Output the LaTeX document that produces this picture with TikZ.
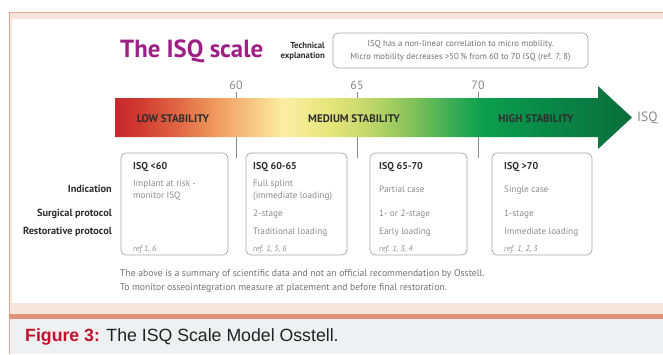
\documentclass[tikz,border=0pt]{standalone}
\usepackage{fontspec}
\setmainfont{PT Sans}
\newfontfamily\capfont{Liberation Sans}

\definecolor{isqpurple}{HTML}{9E1F85}
\definecolor{framepeach}{HTML}{F7E4DA}
\definecolor{frameline}{HTML}{E9A895}
\definecolor{captionbar}{HTML}{E08F78}
\definecolor{captionbg}{HTML}{EFF0F2}
\definecolor{figred}{HTML}{C4122C}
\definecolor{captext}{HTML}{222222}
\definecolor{boxline}{HTML}{A8A8A8}
\definecolor{headdark}{HTML}{2E2E2E}
\definecolor{bodygray}{HTML}{8C8C8C}
\definecolor{tickgray}{HTML}{8A8A8A}
\definecolor{notegray}{HTML}{727272}

\definecolor{scaleA}{HTML}{C8282E}
\definecolor{scaleB}{HTML}{D03A30}
\definecolor{scaleC}{HTML}{E26A45}
\definecolor{scaleD}{HTML}{EF9A5E}
\definecolor{scaleE}{HTML}{F6BE7E}
\definecolor{scaleF}{HTML}{FAEFA2}
\definecolor{scaleG}{HTML}{E6E57A}
\definecolor{scaleH}{HTML}{C0D76A}
\definecolor{scaleI}{HTML}{86C35A}
\definecolor{scaleJ}{HTML}{3DAE55}
\definecolor{scaleK}{HTML}{0EA04E}
\definecolor{scaleL}{HTML}{088A48}
\definecolor{scaleM}{HTML}{0B6E3C}

\pgfdeclarehorizontalshading{isqscale}{100bp}{color(0bp)=(scaleA); color(25bp)=(scaleA);
  color(27.4bp)=(scaleB); color(31.3bp)=(scaleC); color(34.7bp)=(scaleD);
  color(37.6bp)=(scaleE); color(41.4bp)=(scaleF); color(45.8bp)=(scaleG);
  color(49.7bp)=(scaleH); color(53.5bp)=(scaleI); color(57.4bp)=(scaleJ);
  color(60.3bp)=(scaleK); color(66.1bp)=(scaleL); color(75bp)=(scaleM);
  color(100bp)=(scaleM)}

\begin{document}
\begin{tikzpicture}[x=1pt,y=-1pt,
  every node/.style={inner sep=0pt},
  rangebox/.style={draw=boxline, line width=0.7pt, rounded corners=5pt, minimum height=102},
  boxhead/.style={anchor=base west, font=\bfseries\fontsize{10}{12}\selectfont, text=headdark},
  boxtext/.style={anchor=base west, font=\fontsize{9.2}{12}\selectfont, text=bodygray},
  boxref/.style={anchor=base west, font=\itshape\fontsize{8.2}{10}\selectfont, text=bodygray},
  rowlabel/.style={anchor=base east, font=\bfseries\fontsize{10.3}{12}\selectfont, text=headdark},
  stablabel/.style={anchor=base, font=\bfseries\fontsize{11}{13}\selectfont, text=headdark},
  ticklabel/.style={anchor=base, font=\fontsize{12}{14}\selectfont, text=tickgray},
  tickline/.style={draw=tickgray, line width=1pt}]
\useasboundingbox (0,0) rectangle (663,354);
\fill[white] (0,0) rectangle (663,354);
\fill[framepeach] (9,12) rectangle (663,314);
\fill[white] (12,19) rectangle (663,303);
\draw[frameline, line width=0.8pt] (9.4,354) -- (9.4,12.4) -- (663,12.4);
\fill[captionbar] (9,314) rectangle (663,319);
\fill[captionbg] (9.8,319) rectangle (663,354);

\node[anchor=base west, font=\bfseries\fontsize{24.8}{28}\selectfont, text=isqpurple] (title) at (120,57) {The ISQ scale};
\node[anchor=east, align=right, font=\bfseries\fontsize{8.7}{9.5}\selectfont, text=headdark] (techlbl) at (325,51.5) {Technical\\explanation};
\node[draw=boxline, line width=0.7pt, rounded corners=5pt, minimum width=255, minimum height=35, align=center,
  font=\fontsize{8.7}{13}\selectfont, text=notegray] (mobbox) at (460.5,50.5)
  {ISQ has a non-linear correlation to micro mobility.\\Micro mobility decreases >50\,\% from 60 to 70 ISQ (ref. 7, 8)};

\shade[shading=isqscale] (115,98) -- (598,98) -- (598,86) -- (632,117.5) -- (598,149) -- (598,137) -- (115,137) -- cycle;
\node[stablabel] (low) at (173,122) {LOW STABILITY};
\node[stablabel] (medium) at (354,122) {MEDIUM STABILITY};
\node[stablabel] (high) at (536,122) {HIGH STABILITY};
\node[anchor=base west, font=\fontsize{13.5}{16}\selectfont, text=tickgray] (isq) at (637,121.7) {ISQ};

\node[ticklabel] (t60) at (236,89) {60};
\node[ticklabel] (t65) at (357,89) {65};
\node[ticklabel] (t70) at (478,89) {70};
\draw[tickline] (236,92) -- (236,98);
\draw[tickline] (357,92) -- (357,98);
\draw[tickline] (478,92) -- (478,98);
\draw[tickline] (236,137) -- (236,158);
\draw[tickline] (357,137) -- (357,158);
\draw[tickline] (478,137) -- (478,158);

\node[rowlabel] (indication) at (112,192.5) {Indication};
\node[rowlabel] (surgical) at (112,216.5) {Surgical protocol};
\node[rowlabel] (restorative) at (112,234.5) {Restorative protocol};

\node[rangebox, minimum width=107] (box1) at (174.5,204) {};
\node[boxhead] (head1) at (133,169) {ISQ <60};
\node[boxtext] (ind1a) at (133,186) {Implant at risk -};
\node[boxtext] (ind1b) at (133,198) {monitor ISQ};
\node[boxref] (ref1) at (133,251) {ref 1, 6};

\node[rangebox, minimum width=101] (box2) at (296.5,204) {};
\node[boxhead] (head2) at (253,169) {ISQ 60-65};
\node[boxtext] (ind2a) at (253,186) {Full splint};
\node[boxtext] (ind2b) at (253,198) {(immediate loading)};
\node[boxtext] (surg2) at (253,216) {2-stage};
\node[boxtext] (rest2) at (253,234) {Traditional loading};
\node[boxref] (ref2) at (253,251) {ref. 1, 5, 6};

\node[rangebox, minimum width=97] (box3) at (418.5,204) {};
\node[boxhead] (head3) at (379,169) {ISQ 65-70};
\node[boxtext] (ind3) at (379,192) {Partial case};
\node[boxtext] (surg3) at (379,216) {1- or 2-stage};
\node[boxtext] (rest3) at (379,234) {Early loading};
\node[boxref] (ref3) at (379,251) {ref. 1, 3, 4};

\node[rangebox, minimum width=100] (box4) at (542,204) {};
\node[boxhead] (head4) at (504,169) {ISQ >70};
\node[boxtext] (ind4) at (504,192) {Single case};
\node[boxtext] (surg4) at (504,216) {1-stage};
\node[boxtext] (rest4) at (504,234) {Immediate loading};
\node[boxref] (ref4) at (504,251) {ref. 1, 2, 3};

\node[anchor=base west, align=left, font=\fontsize{9.65}{14}\selectfont, text=notegray] (note1) at (120,276)
  {The above is a summary of scientific data and not an official recommendation by Osstell.};
\node[anchor=base west, align=left, font=\fontsize{9.65}{14}\selectfont, text=notegray] (note2) at (120,290)
  {To monitor osseointegration measure at placement and before final restoration.};

\node[anchor=base west, font=\capfont\fontsize{17.7}{20}\selectfont, text=captext] (caption) at (25,341)
  {\textcolor{figred}{\bfseries Figure 3:} The ISQ Scale Model Osstell.};
\end{tikzpicture}
\end{document}
